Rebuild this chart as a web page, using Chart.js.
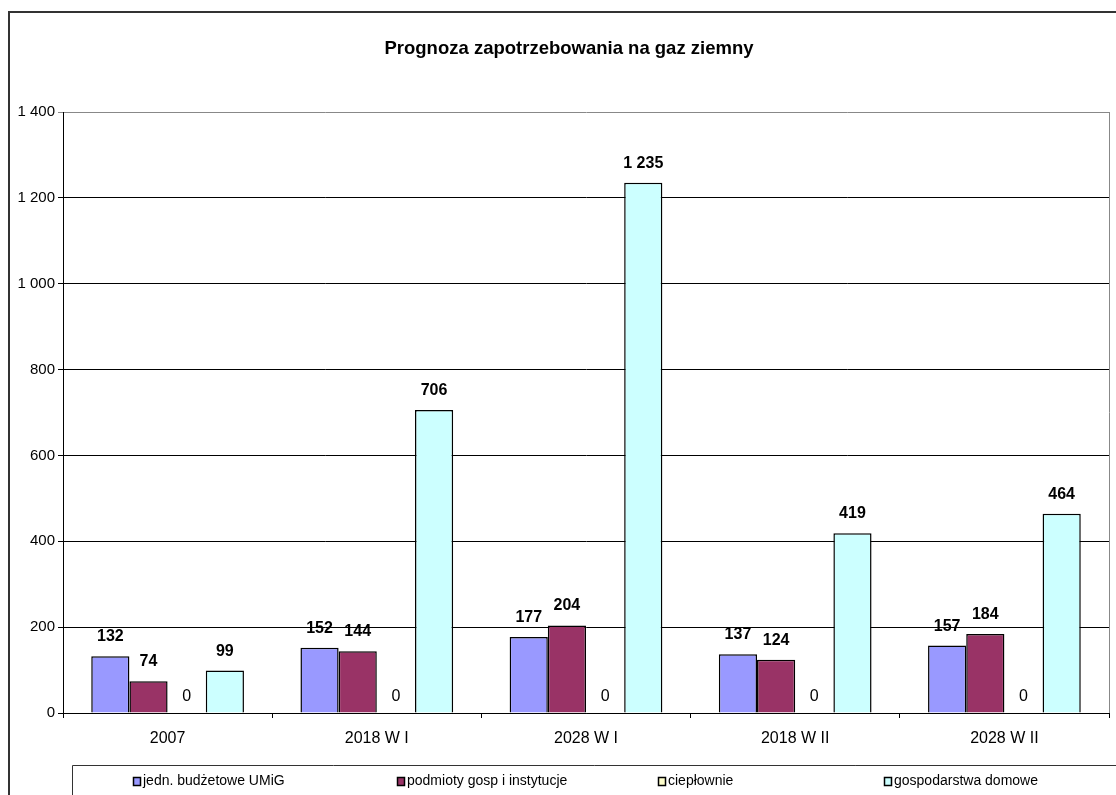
<!DOCTYPE html>
<html>
<head>
<meta charset="utf-8">
<script src="https://cdn.jsdelivr.net/npm/chart.js@4"></script>
<style>
  html, body { margin: 0; padding: 0; background: #fff; }
  #wrap { width: 1116px; height: 795px; position: relative; }
</style>
</head>
<body>
<div id="wrap"><canvas id="gasChart" width="1116" height="795"></canvas></div>
<script>
const chartTitle = 'Prognoza zapotrzebowania na gaz ziemny';
const categories = ['2007', '2018 W I', '2028 W I', '2018 W II', '2028 W II'];
const seriesNames = ['jedn. budżetowe UMiG', 'podmioty gosp i instytucje', 'ciepłownie', 'gospodarstwa domowe'];
const seriesColors = ['#9999FF', '#993366', '#FFFFCC', '#CCFFFF'];
const budzetowe = [132, 152, 177, 137, 157];
const podmioty = [74, 144, 204, 124, 184];
const cieplownie = [0, 0, 0, 0, 0];
const gospodarstwa = [99, 706, 1235, 419, 464];
const yTicks = [0, 200, 400, 600, 800, 1000, 1200, 1400];

const fmt = (n) => String(n).replace(/\B(?=(\d{3})+(?!\d))/g, ' ');
const FONT = 'Arial, "Liberation Sans", sans-serif';

// title, frame, value labels and legend drawn by hand
const decor = {
    id: 'decor',
    afterDraw(chart) {
        const ctx = chart.ctx;
        const area = chart.chartArea;
        ctx.save();

        // outer frame (cut off at right and bottom)
        ctx.strokeStyle = '#333';
        ctx.lineWidth = 2;
        ctx.beginPath();
        ctx.moveTo(9, 800);
        ctx.lineTo(9, 12);
        ctx.lineTo(1120, 12);
        ctx.stroke();

        // plot border right side
        ctx.strokeStyle = '#888';
        ctx.lineWidth = 1;
        ctx.beginPath();
        ctx.moveTo(Math.round(area.right) + 0.5, area.top);
        ctx.lineTo(Math.round(area.right) + 0.5, area.bottom);
        ctx.stroke();

        // title
        ctx.fillStyle = '#000';
        ctx.font = 'bold 18.5px ' + FONT;
        ctx.textAlign = 'center';
        ctx.textBaseline = 'middle';
        ctx.fillText(chartTitle, 569, 49);

        // value labels
        chart.data.datasets.forEach((ds, di) => {
            const meta = chart.getDatasetMeta(di);
            meta.data.forEach((bar, i) => {
                const v = ds.data[i];
                ctx.font = (v === 0 ? '' : 'bold ') + '16px ' + FONT;
                ctx.textBaseline = 'alphabetic';
                ctx.fillText(fmt(v), bar.x, bar.y - (v === 0 ? 12 : 15));
            });
        });

        // legend box
        ctx.strokeStyle = '#333';
        ctx.lineWidth = 1;
        ctx.beginPath();
        ctx.moveTo(72.5, 800);
        ctx.lineTo(72.5, 765.5);
        ctx.lineTo(1120, 765.5);
        ctx.stroke();

        const markerX = [133, 397, 658, 884];
        ctx.font = '14px "Liberation Sans Narrow", ' + FONT;
        ctx.textAlign = 'left';
        ctx.textBaseline = 'middle';
        seriesNames.forEach((name, i) => {
            ctx.fillStyle = seriesColors[i];
            ctx.fillRect(markerX[i] + 0.5, 777.5, 7, 8);
            ctx.strokeStyle = '#000';
            ctx.lineWidth = 1.5;
            ctx.strokeRect(markerX[i] + 0.5, 777.5, 7, 8);
            ctx.fillStyle = '#000';
            ctx.fillText(name, markerX[i] + 10, 781);
        });
        ctx.restore();
    }
};

const makeSet = (i, data) => ({
    label: seriesNames[i],
    data: data,
    backgroundColor: seriesColors[i],
    borderColor: '#000',
    borderWidth: 1.5,
    categoryPercentage: 0.73,
    barPercentage: 1
});

new Chart(document.getElementById('gasChart'), {
    type: 'bar',
    data: {
        labels: categories,
        datasets: [
            makeSet(0, budzetowe),
            makeSet(1, podmioty),
            makeSet(2, cieplownie),
            makeSet(3, gospodarstwa)
        ]
    },
    options: {
        responsive: false,
        animation: false,
        events: [],
        layout: { padding: { left: 8, right: 7, top: 112, bottom: 42 } },
        plugins: {
            legend: { display: false },
            title: { display: false },
            tooltip: { enabled: false }
        },
        scales: {
            x: {
                afterFit: (s) => { s.height = 40; },
                grid: {
                    offset: true,
                    drawOnChartArea: false,
                    tickLength: 5,
                    color: '#000'
                },
                border: { color: '#000', width: 1 },
                ticks: { color: '#000', font: { family: FONT, size: 16 }, padding: 11 }
            },
            y: {
                min: 0,
                max: 1400,
                afterFit: (s) => { s.width = 55; },
                afterBuildTicks: (s) => { s.ticks = yTicks.map(v => ({ value: v })); },
                grid: {
                    color: (c) => (c.tick && c.tick.value === 1400 ? '#888' : '#000'),
                    tickLength: 5
                },
                border: { color: '#000', width: 1 },
                ticks: {
                    color: '#000',
                    font: { family: FONT, size: 15 },
                    padding: 3,
                    callback: (v) => fmt(v)
                }
            }
        }
    },
    plugins: [decor]
});
</script>
</body>
</html>
